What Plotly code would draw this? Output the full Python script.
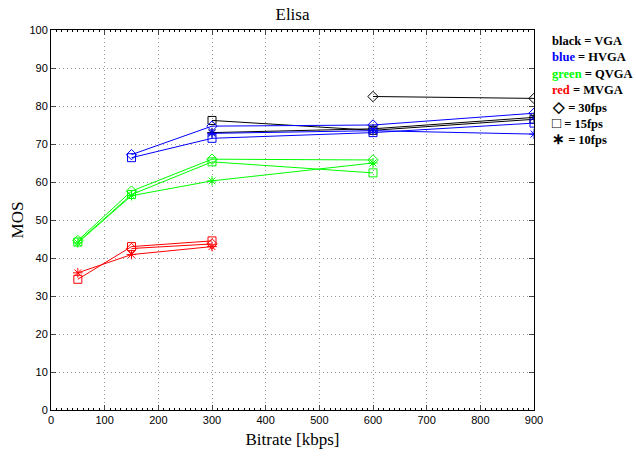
import plotly.graph_objects as go

# Bitrates (kbps)
vga_30_x = [600, 900];        vga_30_y = [82.5, 82.0]
vga_15_x = [300, 600, 900];   vga_15_y = [76.2, 73.6, 76.5]
vga_10_x = [300, 600, 900];   vga_10_y = [73.0, 74.0, 77.0]

hvga_30_x = [150, 300, 600, 900]; hvga_30_y = [67.2, 74.7, 75.0, 78.1]
hvga_15_x = [150, 300, 600, 900]; hvga_15_y = [66.4, 71.5, 73.0, 75.5]
hvga_10_x = [300, 600, 900];      hvga_10_y = [72.8, 73.5, 72.6]

qvga_30_x = [50, 150, 300, 600]; qvga_30_y = [44.6, 57.6, 66.0, 65.8]
qvga_15_x = [50, 150, 300, 600]; qvga_15_y = [44.2, 56.7, 65.3, 62.4]
qvga_10_x = [50, 150, 300, 600]; qvga_10_y = [44.0, 56.4, 60.3, 65.0]

mvga_30_x = [150, 300];      mvga_30_y = [42.5, 43.7]
mvga_15_x = [50, 150, 300];  mvga_15_y = [34.4, 43.0, 44.5]
mvga_10_x = [50, 150, 300];  mvga_10_y = [36.1, 40.9, 43.0]

x_ticks = [0, 100, 200, 300, 400, 500, 600, 700, 800, 900]
y_ticks = [0, 10, 20, 30, 40, 50, 60, 70, 80, 90, 100]

legend_lines = [
    ("black", "black", "VGA"),
    ("blue", "#0000ff", "HVGA"),
    ("green", "#00ff00", "QVGA"),
    ("red", "#ff0000", "MVGA"),
]
legend_symbols = [("\u25C7", "30fps"), ("\u25A1", "15fps"), ("\u2217", "10fps")]

series = [
    (vga_30_x, vga_30_y, "black", "diamond-open"),
    (vga_15_x, vga_15_y, "black", "square-open"),
    (vga_10_x, vga_10_y, "black", "asterisk-open"),
    (hvga_30_x, hvga_30_y, "#0000ff", "diamond-open"),
    (hvga_15_x, hvga_15_y, "#0000ff", "square-open"),
    (hvga_10_x, hvga_10_y, "#0000ff", "asterisk-open"),
    (qvga_30_x, qvga_30_y, "#00ff00", "diamond-open"),
    (qvga_15_x, qvga_15_y, "#00ff00", "square-open"),
    (qvga_10_x, qvga_10_y, "#00ff00", "asterisk-open"),
    (mvga_30_x, mvga_30_y, "#ff0000", "diamond-open"),
    (mvga_15_x, mvga_15_y, "#ff0000", "square-open"),
    (mvga_10_x, mvga_10_y, "#ff0000", "asterisk-open"),
]

fig = go.Figure()
for xs, ys, c, sym in series:
    fig.add_trace(go.Scatter(
        x=xs, y=ys, mode="lines+markers",
        line=dict(color=c, width=1),
        marker=dict(symbol=sym, size=8, color=c, line=dict(color=c, width=1)),
        showlegend=False,
    ))

serif = "Liberation Serif, Times New Roman, serif"
sans = "Liberation Sans, Arial, sans-serif"

L, R, T, B = 51, 534, 30, 410

fig.update_layout(
    width=636, height=460,
    margin=dict(l=L, r=636 - R, t=T, b=460 - B, autoexpand=False),
    paper_bgcolor="white", plot_bgcolor="white",
    title=dict(text="Elisa", x=(L + R) / 2 / 636, xanchor="center",
               y=1 - 14 / 460, yanchor="middle",
               font=dict(family=serif, size=17, color="black")),
    xaxis=dict(range=[0, 900], tickvals=x_ticks, ticks="inside", ticklen=5,
               automargin=False,
               showline=True, linecolor="black", linewidth=1, mirror="ticks",
               showgrid=True, gridcolor="#999", griddash="1px,3px", gridwidth=1,
               zeroline=False,
               minor=dict(ticks="inside", ticklen=2, dtick=10, tickcolor="black",
                          showgrid=False),
               tickfont=dict(family=sans, size=11, color="black"),
               title=dict(text="Bitrate [kbps]", standoff=7,
                          font=dict(family=serif, size=17, color="black"))),
    yaxis=dict(range=[0, 100], tickvals=y_ticks, ticks="inside", ticklen=5,
               automargin=False,
               showline=True, linecolor="black", linewidth=1, mirror="ticks",
               showgrid=True, gridcolor="#999", griddash="1px,3px", gridwidth=1,
               zeroline=False,
               tickfont=dict(family=sans, size=11, color="black"),
               title=dict(text="MOS", standoff=1,
                          font=dict(family=serif, size=17, color="black"))),
)

ann_x = 550
y0 = 41
dy = 16.4
rows = [f"<b><span style='color:{col}'>{word}</span> = {name}</b>"
        for word, col, name in legend_lines]
rows += [f"<b><span style='font-size:15px'>{s}</span> = {name}</b>"
         for s, name in legend_symbols]
for i, txt in enumerate(rows):
    ypix = y0 + i * dy
    fig.add_annotation(
        xref="paper", yref="paper",
        x=(ann_x - L) / (R - L), y=(B - ypix) / (B - T),
        xanchor="left", yanchor="middle",
        text=txt, showarrow=False,
        font=dict(family=serif, size=12.5, color="black"))

fig.write_html("out.html")
